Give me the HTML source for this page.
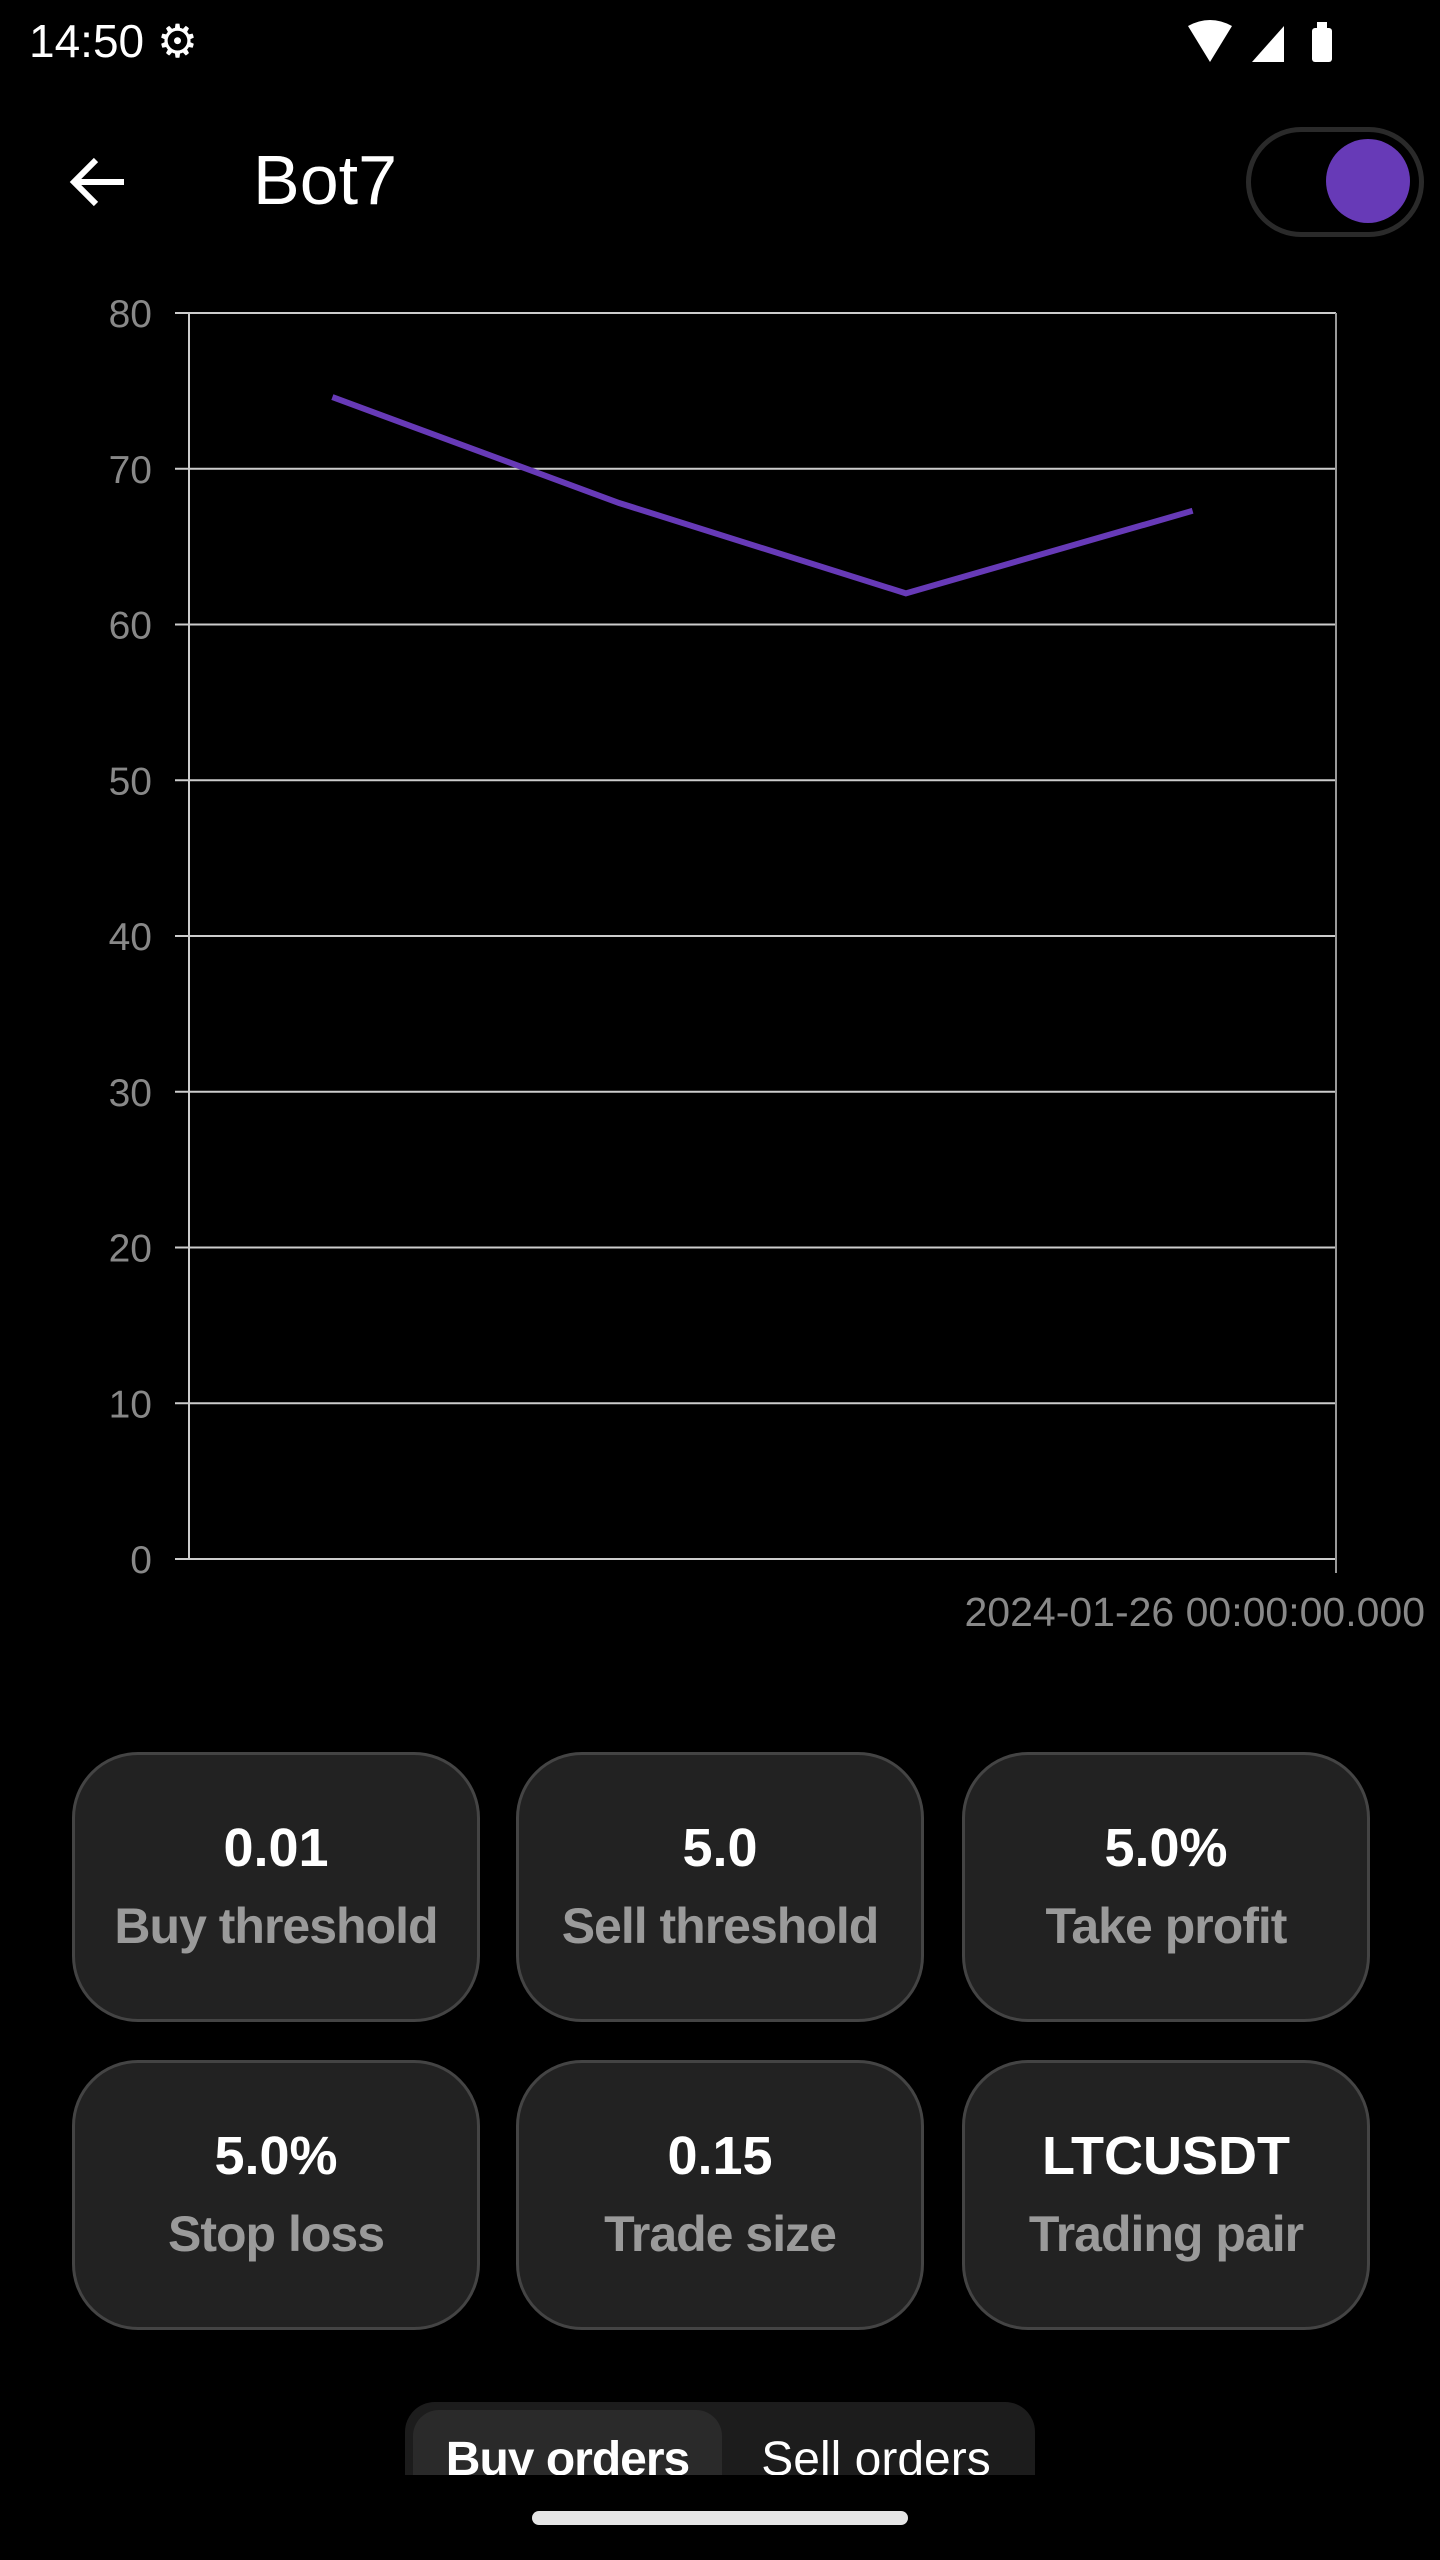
<!DOCTYPE html>
<html><head><meta charset="utf-8"><style>
body{margin:0;width:1440px;height:2560px;background:#000;overflow:hidden;font-family:"Liberation Sans",sans-serif;color:#fff;position:relative}
.abs{position:absolute}
.card{position:absolute;width:408px;height:270px;background:#222;border:3px solid #444;border-radius:66px;box-sizing:border-box;text-align:center}
.card .v{position:absolute;left:0;right:0;top:62px;font-size:54px;font-weight:bold;color:#fff}
.card .l{position:absolute;left:0;right:0;top:142px;font-size:50px;font-weight:bold;color:#9a9a9a;letter-spacing:-1px}
</style></head><body>
<div class="abs" style="left:29px;top:14px;font-size:46px">14:50 ⚙</div>
<svg class="abs" style="left:1180px;top:18px" width="180" height="50">
<path d="M8 8 Q30 -4 52 8 L30 44 Z" fill="#fff"/><path d="M72 44 L104 8 L104 44 Z" fill="#fff"/><rect x="132" y="10" width="20" height="34" rx="3" fill="#fff"/><rect x="137" y="4" width="10" height="8" fill="#fff"/></svg>
<svg class="abs" style="left:66px;top:152px" width="64" height="60"><path d="M58 30 H10 M30 8 L8 30 L30 52" stroke="#fff" stroke-width="6" fill="none"/></svg>
<div class="abs" style="left:253px;top:140px;font-size:70px">Bot7</div>
<div class="abs" style="left:1246px;top:127px;width:178px;height:110px;border:5px solid #2a2a2a;border-radius:56px;box-sizing:border-box"></div>
<div class="abs" style="left:1326px;top:139px;width:84px;height:84px;border-radius:50%;background:#673ab7"></div>
<svg class="abs" id="chart" style="left:0;top:0" width="1440" height="1680"></svg>
<div class="card" style="left:72px;top:1752px"><div class="v">0.01</div><div class="l">Buy threshold</div></div>
<div class="card" style="left:516px;top:1752px"><div class="v">5.0</div><div class="l">Sell threshold</div></div>
<div class="card" style="left:962px;top:1752px"><div class="v">5.0%</div><div class="l">Take profit</div></div>
<div class="card" style="left:72px;top:2060px"><div class="v">5.0%</div><div class="l">Stop loss</div></div>
<div class="card" style="left:516px;top:2060px"><div class="v">0.15</div><div class="l">Trade size</div></div>
<div class="card" style="left:962px;top:2060px"><div class="v">LTCUSDT</div><div class="l">Trading pair</div></div>
<div class="abs" style="left:405px;top:2402px;width:630px;height:73px;background:#1c1c1c;border-radius:30px 30px 0 0;overflow:hidden">
<div class="abs" style="left:8px;top:8px;width:309px;height:90px;background:#2a2a2a;border-radius:26px;text-align:center;font-size:48px;line-height:100px;font-weight:bold;letter-spacing:-1px">Buy orders</div>
<div class="abs" style="left:320px;top:8px;width:302px;height:90px;text-align:center;font-size:48px;line-height:100px">Sell orders</div>
</div>
<div class="abs" style="left:532px;top:2511px;width:376px;height:14px;border-radius:7px;background:#e6e6e6"></div>
<script>
const categories=["t1","t2","t3","t4"];
const values=[74.6,67.8,62.0,67.3];
const yTicks=[0,10,20,30,40,50,60,70,80];
const xLabel="2024-01-26 00:00:00.000";
const svg=document.getElementById('chart');const NS="http://www.w3.org/2000/svg";
const L=189,R=1336,T=313,B=1559,yMax=80;
const y=v=>B-(v/yMax)*(B-T);
const x=i=>L+(i+0.5)*(R-L)/categories.length;
function mk(t,a){const e=document.createElementNS(NS,t);for(const k in a)e.setAttribute(k,a[k]);svg.appendChild(e);return e;}
yTicks.forEach(v=>{
 const g=mk('line',{x1:L-14,x2:R,y1:y(v),y2:y(v),stroke:'#ccc','stroke-width':2});
 
 
 const t=mk('text',{x:152,y:y(v)+14,'text-anchor':'end','font-size':39,fill:'#888','font-family':'Liberation Sans, sans-serif'});
 t.textContent=v;
 
 
});
const ax=mk('line',{x1:L,x2:L,y1:T,y2:B,stroke:'#ccc','stroke-width':2});


const ax2=mk('line',{x1:R,x2:R,y1:T,y2:B+14,stroke:'#999','stroke-width':2});


const line=mk('polyline',{points:values.map((v,i)=>x(i)+','+y(v)).join(' '),fill:'none',stroke:'#673ab7','stroke-width':6});


const xl=mk('text',{x:1425,y:1626,'text-anchor':'end','font-size':41,fill:'#888','font-family':'Liberation Sans, sans-serif'});
xl.textContent=xLabel;


</script>
</body></html>
